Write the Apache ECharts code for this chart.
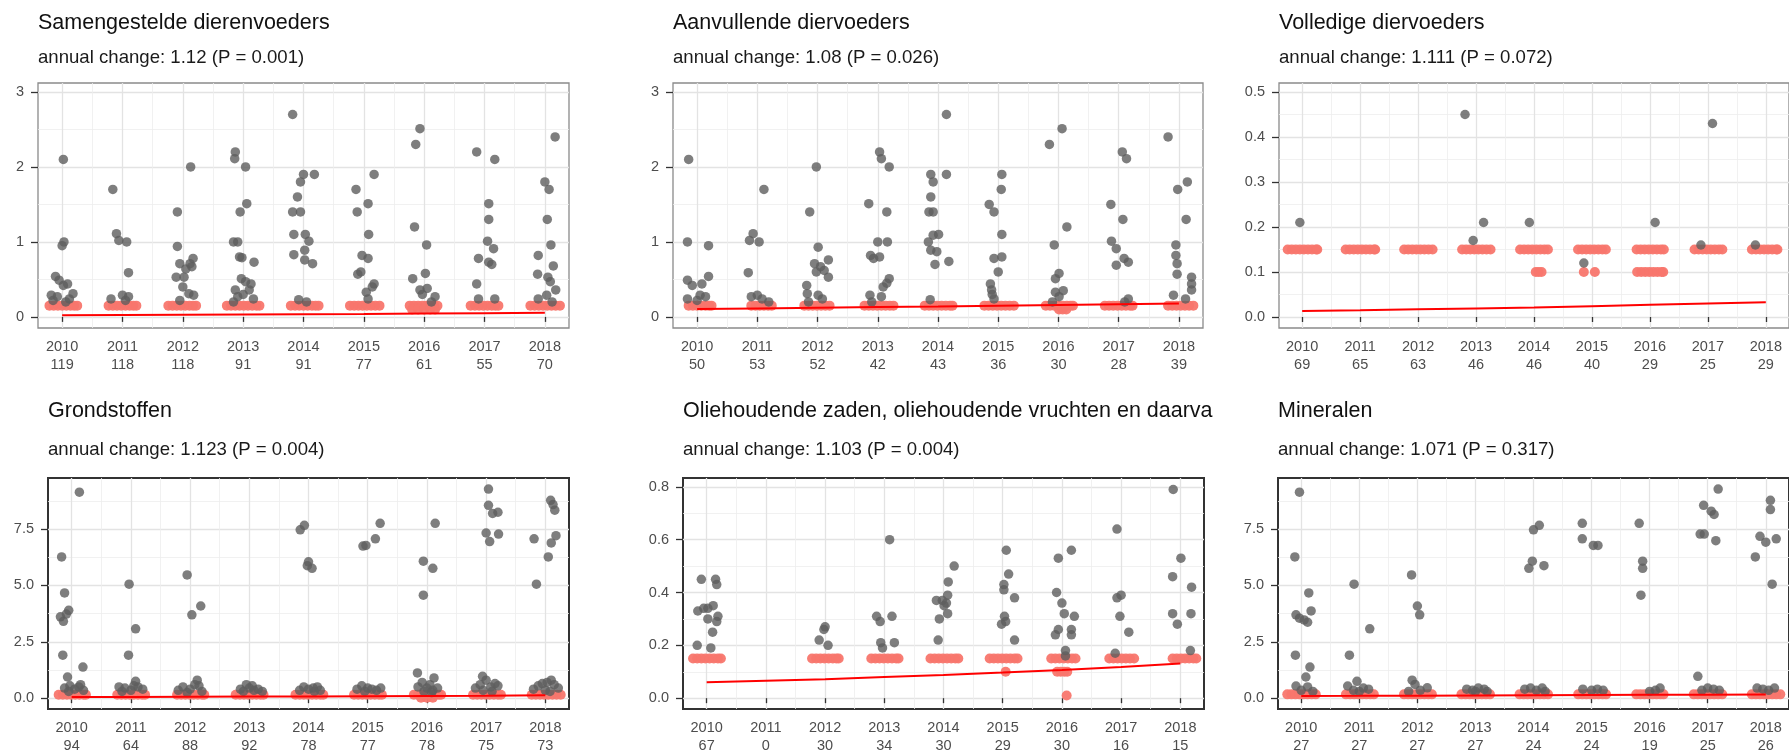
<!DOCTYPE html>
<html style="height: 100%">
<head>
<meta charset="utf-8" />
<title>Annual change per product group</title>
<script type="text/javascript" src="https://cdn.jsdelivr.net/npm/echarts@6/dist/echarts.min.js"></script>
</head>
<body style="height: 100%; margin: 0; background: #fff">
<div id="main" style="width: 1789px; height: 755px"></div>
<script type="text/javascript">
// years on the x axis and the number of samples per year (second label line)
var years = [2010, 2011, 2012, 2013, 2014, 2015, 2016, 2017, 2018];
var xMinor = [2010.5, 2011.5, 2012.5, 2013.5, 2014.5, 2015.5, 2016.5, 2017.5];

var titles = [
  "Samengestelde dierenvoeders",
  "Aanvullende diervoeders",
  "Volledige diervoeders",
  "Grondstoffen",
  "Oliehoudende zaden, oliehoudende vruchten en daarvan afgeleide producten",
  "Mineralen"
];
var subtitles = [
  "annual change: 1.12 (P = 0.001)",
  "annual change: 1.08 (P = 0.026)",
  "annual change: 1.111 (P = 0.072)",
  "annual change: 1.123 (P = 0.004)",
  "annual change: 1.103 (P = 0.004)",
  "annual change: 1.071 (P = 0.317)"
];

var countsP1 = [119, 118, 118, 91, 91, 77, 61, 55, 70];
var countsP2 = [50, 53, 52, 42, 43, 36, 30, 28, 39];
var countsP3 = [69, 65, 63, 46, 46, 40, 29, 25, 29];
var countsP4 = [94, 64, 88, 92, 78, 77, 78, 75, 73];
var countsP5 = [67, 0, 30, 34, 30, 29, 30, 16, 15];
var countsP6 = [27, 27, 27, 27, 24, 24, 19, 25, 26];

// y tick labels
var yTicksP1 = [0, 1, 2, 3];
var yTicksP2 = [0, 1, 2, 3];
var yTicksP3 = [0, 0.1, 0.2, 0.3, 0.4, 0.5];
var yTicksP4 = [0, 2.5, 5, 7.5];
var yTicksP5 = [0, 0.2, 0.4, 0.6, 0.8];
var yTicksP6 = [0, 2.5, 5, 7.5];

// measured values (x = year + jitter), grey = above detection limit
var greyP1 = [
  [2010.02,2.10],[2010.03,1.00],[2010.0,0.95],[2009.89,0.54],[2009.95,0.49],[2010.09,0.44],[2010.02,0.42],[2009.82,0.29],[2009.92,0.27],[2010.18,0.31],[2010.12,0.24],[2009.85,0.22],[2010.06,0.2],
  [2010.84,1.70],[2010.9,1.11],[2010.94,1.02],[2011.07,1.0],[2011.1,0.59],[2010.81,0.24],[2011.0,0.29],[2011.1,0.27],[2011.05,0.22],
  [2012.13,2.0],[2011.91,1.40],[2011.91,0.94],[2011.95,0.71],[2011.89,0.53],[2012.02,0.53],[2012.05,0.64],[2012.12,0.71],[2012.17,0.78],[2012.15,0.67],[2012.0,0.4],[2012.1,0.31],[2012.18,0.29],[2011.95,0.22],
  [2012.87,2.2],[2012.86,2.11],[2013.04,2.0],[2013.06,1.51],[2012.95,1.40],[2012.84,1.0],[2012.91,1.0],[2012.94,0.8],[2012.98,0.79],[2013.18,0.73],[2012.97,0.51],[2013.04,0.47],[2013.13,0.44],[2012.87,0.36],[2013.1,0.36],[2012.91,0.27],[2013.17,0.24],[2012.84,0.2],[2013.0,0.3],
  [2013.82,2.70],[2014.0,1.9],[2014.18,1.9],[2013.95,1.8],[2013.9,1.6],[2013.82,1.4],[2013.95,1.4],[2013.84,1.1],[2014.03,1.1],[2014.09,1.01],[2014.02,0.89],[2013.84,0.83],[2014.02,0.76],[2014.15,0.71],[2013.92,0.23],[2014.05,0.2],
  [2014.87,1.70],[2015.17,1.9],[2015.07,1.51],[2014.89,1.40],[2015.08,1.1],[2014.97,0.82],[2015.07,0.78],[2014.95,0.6],[2014.9,0.57],[2015.17,0.44],[2015.14,0.40],[2015.04,0.33],[2015.07,0.24],
  [2015.93,2.51],[2015.86,2.30],[2015.84,1.2],[2016.04,0.96],[2015.81,0.51],[2016.02,0.58],[2015.93,0.36],[2016.05,0.38],[2016.18,0.27],[2016.12,0.2],[2015.97,0.3],
  [2016.87,2.2],[2017.17,2.1],[2017.07,1.51],[2017.07,1.3],[2017.05,1.01],[2017.15,0.91],[2016.9,0.78],[2017.07,0.73],[2017.12,0.7],[2016.87,0.44],[2016.9,0.24],[2017.17,0.24],
  [2018.17,2.4],[2018.0,1.8],[2018.07,1.7],[2018.04,1.3],[2018.1,0.96],[2017.89,0.82],[2018.14,0.68],[2017.88,0.57],[2018.05,0.53],[2018.09,0.47],[2018.18,0.36],[2018.03,0.29],[2017.89,0.24],[2018.12,0.2]
];
var greyP2 = [
  [2009.86,2.1],[2009.84,1.0],[2010.19,0.95],[2009.84,0.49],[2009.92,0.42],[2010.08,0.44],[2010.19,0.54],[2009.84,0.24],[2010.05,0.29],[2010.14,0.27],[2010.0,0.22],
  [2010.93,1.11],[2010.87,1.02],[2011.03,1.0],[2011.11,1.70],[2010.85,0.59],[2010.9,0.27],[2011.0,0.29],[2011.19,0.2],[2011.08,0.24],
  [2011.98,2.0],[2011.87,1.40],[2012.01,0.93],[2011.95,0.71],[2012.05,0.67],[2012.11,0.62],[2011.98,0.6],[2012.18,0.76],[2012.18,0.53],[2011.82,0.42],[2011.83,0.31],[2012.01,0.29],[2012.08,0.24],[2011.85,0.2],
  [2013.03,2.2],[2013.06,2.11],[2013.19,2.0],[2012.85,1.51],[2013.15,1.40],[2013.0,1.0],[2013.16,1.0],[2012.88,0.82],[2012.93,0.78],[2013.03,0.8],[2013.19,0.51],[2013.09,0.4],[2012.87,0.29],[2013.06,0.27],[2013.15,0.45],[2012.9,0.2],
  [2014.14,2.70],[2013.88,1.9],[2014.14,1.9],[2013.92,1.8],[2013.88,1.6],[2013.92,1.4],[2013.85,1.4],[2014.01,1.1],[2013.92,1.09],[2013.84,1.0],[2013.88,0.89],[2013.98,0.87],[2014.18,0.74],[2013.95,0.7],[2013.87,0.23],
  [2014.85,1.50],[2014.93,1.40],[2015.06,1.9],[2015.05,1.70],[2015.06,1.1],[2014.93,0.78],[2015.06,0.8],[2015.0,0.6],[2014.87,0.44],[2014.89,0.36],[2014.93,0.24],[2014.9,0.3],
  [2015.85,2.30],[2016.06,2.51],[2016.14,1.2],[2015.93,0.96],[2016.01,0.58],[2015.95,0.51],[2015.95,0.33],[2016.08,0.35],[2016.01,0.27],[2015.9,0.2],
  [2017.06,2.2],[2017.13,2.11],[2016.87,1.50],[2017.07,1.3],[2016.88,1.01],[2016.96,0.91],[2017.09,0.78],[2016.96,0.69],[2017.16,0.73],[2017.16,0.24],[2017.1,0.2],
  [2017.82,2.4],[2018.14,1.8],[2017.98,1.70],[2018.12,1.3],[2017.95,0.96],[2017.95,0.82],[2017.97,0.71],[2017.97,0.57],[2018.21,0.53],[2018.21,0.44],[2018.21,0.36],[2017.91,0.29],[2018.11,0.24]
];
var greyP3 = [
  [2009.96,0.21],[2012.81,0.45],[2012.95,0.17],[2013.13,0.21],[2013.92,0.21],[2014.86,0.12],[2016.09,0.21],[2016.88,0.16],[2017.08,0.43],[2017.82,0.16]
];
var greyP4 = [
  [2010.13,9.14],[2009.83,6.27],[2009.88,4.67],[2009.81,3.61],[2009.86,3.41],[2009.91,3.73],[2009.95,3.9],[2009.85,1.91],[2010.19,1.38],[2009.93,0.94],[2009.88,0.45],[2009.97,0.55],[2010.05,0.4],[2010.12,0.5],[2010.2,0.35],[2010.15,0.6],[2009.95,0.3],
  [2010.97,5.06],[2011.08,3.08],[2010.96,1.91],[2011.08,0.75],[2010.8,0.5],[2010.9,0.45],[2011.0,0.35],[2011.12,0.5],[2011.2,0.4],[2011.05,0.55],[2010.85,0.3],
  [2011.95,5.47],[2012.03,3.7],[2012.18,4.09],[2012.12,0.8],[2011.8,0.35],[2011.88,0.5],[2012.0,0.4],[2012.08,0.6],[2012.15,0.55],[2012.2,0.3],[2011.95,0.25],
  [2012.85,0.4],[2012.95,0.6],[2013.0,0.45],[2013.08,0.35],[2013.15,0.4],[2013.22,0.3],[2012.9,0.3],[2013.05,0.55],
  [2013.86,7.47],[2013.93,7.67],[2014.0,6.05],[2013.98,5.88],[2014.06,5.76],[2013.85,0.35],[2013.92,0.5],[2014.0,0.4],[2014.08,0.45],[2014.15,0.5],[2014.2,0.35],[2014.1,0.3],
  [2014.92,6.75],[2014.97,6.78],[2015.13,7.07],[2015.21,7.76],[2014.82,0.4],[2014.9,0.55],[2015.0,0.45],[2015.07,0.4],[2015.15,0.35],[2015.22,0.45],[2014.95,0.3],
  [2015.94,6.08],[2016.1,5.76],[2016.14,7.76],[2015.94,4.57],[2015.84,1.12],[2016.12,0.9],[2015.85,0.5],[2015.92,0.7],[2016.0,0.45],[2016.05,0.6],[2016.1,0.35],[2016.18,0.45],[2015.95,0.3],[2016.08,0.25],
  [2017.04,9.28],[2017.04,8.56],[2017.11,8.2],[2017.2,8.25],[2017.0,7.33],[2017.06,6.95],[2017.21,7.28],[2016.94,0.97],[2016.82,0.45],[2016.9,0.6],[2017.0,0.8],[2017.08,0.5],[2017.15,0.65],[2017.2,0.55],[2016.95,0.35],[2017.1,0.3],
  [2017.81,7.07],[2017.85,5.06],[2018.05,6.27],[2018.1,6.89],[2018.18,7.21],[2018.09,8.78],[2018.13,8.59],[2018.16,8.34],[2017.8,0.4],[2017.88,0.55],[2017.95,0.65],[2018.03,0.7],[2018.1,0.8],[2018.15,0.6],[2018.22,0.45],[2018.0,0.35],[2018.08,0.3]
];
var greyP5 = [
  [2009.91,0.45],[2009.85,0.33],[2009.95,0.34],[2010.02,0.34],[2010.11,0.35],[2010.02,0.30],[2010.15,0.45],[2010.17,0.43],[2010.19,0.31],[2010.17,0.29],[2010.1,0.25],[2009.84,0.2],[2010.07,0.19],
  [2012.0,0.27],[2011.98,0.26],[2011.9,0.22],[2012.05,0.2],
  [2013.09,0.6],[2012.87,0.31],[2013.13,0.31],[2012.93,0.29],[2012.94,0.21],[2012.97,0.19],[2013.17,0.21],
  [2014.18,0.5],[2014.08,0.44],[2013.88,0.37],[2013.98,0.37],[2014.07,0.39],[2014.01,0.35],[2014.07,0.32],[2013.93,0.30],[2013.91,0.22],[2014.05,0.36],
  [2015.06,0.56],[2015.1,0.47],[2015.02,0.43],[2015.02,0.41],[2015.2,0.38],[2015.03,0.31],[2015.05,0.29],[2014.98,0.28],[2015.2,0.22],
  [2015.94,0.53],[2016.16,0.56],[2015.91,0.40],[2016.0,0.36],[2016.04,0.32],[2016.21,0.31],[2015.89,0.24],[2015.94,0.26],[2016.16,0.26],[2016.16,0.24],[2016.06,0.18],[2016.06,0.16],
  [2016.93,0.64],[2016.93,0.38],[2017.0,0.39],[2016.98,0.31],[2017.13,0.25],[2016.9,0.17],
  [2017.88,0.79],[2018.01,0.53],[2017.87,0.46],[2018.19,0.42],[2017.87,0.32],[2018.18,0.32],[2017.95,0.28],[2018.17,0.18]
];
var greyP6 = [
  [2009.97,9.14],[2009.89,6.27],[2010.13,4.67],[2009.91,3.7],[2009.97,3.55],[2010.05,3.47],[2010.11,3.37],[2010.17,3.87],[2009.9,1.91],[2010.15,1.38],[2010.08,0.94],[2009.91,0.54],[2010.11,0.5],[2010.0,0.35],[2010.2,0.3],
  [2010.91,5.06],[2011.18,3.08],[2010.83,1.91],[2010.96,0.75],[2010.8,0.54],[2011.07,0.45],[2011.16,0.4],[2010.9,0.35],[2011.0,0.3],
  [2011.9,5.47],[2012.0,4.09],[2012.04,3.7],[2011.91,0.8],[2011.96,0.61],[2012.17,0.46],[2012.05,0.35],[2011.85,0.3],
  [2012.85,0.4],[2012.95,0.35],[2013.05,0.45],[2013.15,0.4],[2013.2,0.3],[2013.0,0.3],
  [2014.0,7.47],[2014.1,7.67],[2013.98,6.08],[2013.92,5.76],[2014.18,5.88],[2013.85,0.4],[2013.95,0.45],[2014.05,0.35],[2014.15,0.45],[2014.2,0.3],
  [2014.84,7.76],[2014.84,7.07],[2015.03,6.78],[2015.11,6.78],[2014.85,0.4],[2015.0,0.35],[2015.1,0.4],[2015.2,0.35],
  [2015.82,7.76],[2015.88,6.08],[2015.88,5.76],[2015.85,4.57],[2016.0,0.3],[2016.1,0.35],[2016.18,0.45],
  [2017.18,9.28],[2016.93,8.56],[2017.06,8.3],[2017.11,8.15],[2016.87,7.28],[2016.94,7.28],[2017.14,6.99],[2016.83,0.97],[2016.9,0.35],[2017.0,0.45],[2017.1,0.4],[2017.2,0.35],
  [2017.82,6.27],[2017.9,7.18],[2018.0,6.92],[2018.18,7.07],[2018.08,8.78],[2018.08,8.37],[2018.11,5.06],[2017.85,0.45],[2017.95,0.4],[2018.05,0.35],[2018.15,0.45]
];

// values below the detection limit (red): each row = [value, x, x, x, ...]
var redP1 = [
  [0.15, 2009.79,2009.86,2009.93,2010.0,2010.07,2010.14,2010.2,2010.25],
  [0.15, 2010.77,2010.84,2010.91,2010.98,2011.05,2011.12,2011.18,2011.23],
  [0.15, 2011.76,2011.83,2011.9,2011.97,2012.04,2012.11,2012.17,2012.22],
  [0.15, 2012.73,2012.8,2012.87,2012.94,2013.01,2013.08,2013.15,2013.22,2013.27],
  [0.15, 2013.79,2013.86,2013.93,2014.0,2014.07,2014.14,2014.2,2014.25],
  [0.15, 2014.77,2014.84,2014.91,2014.98,2015.05,2015.12,2015.19,2015.26],
  [0.15, 2015.76,2015.83,2015.9,2015.97,2016.04,2016.11,2016.17,2016.22],
  [0.1, 2015.8,2015.9,2016.0,2016.1,2016.18],
  [0.15, 2016.77,2016.84,2016.91,2016.98,2017.05,2017.12,2017.18,2017.23],
  [0.15, 2017.76,2017.83,2017.9,2017.97,2018.04,2018.11,2018.18,2018.25]
];
var redP2 = [
  [0.15, 2009.86,2009.93,2010.0,2010.07,2010.14,2010.2,2010.24],
  [0.15, 2010.9,2010.97,2011.04,2011.11,2011.18,2011.24],
  [0.15, 2011.78,2011.85,2011.92,2011.99,2012.06,2012.13,2012.2],
  [0.15, 2012.78,2012.85,2012.92,2012.99,2013.06,2013.13,2013.2,2013.26],
  [0.15, 2013.78,2013.85,2013.92,2013.99,2014.06,2014.13,2014.2,2014.24],
  [0.15, 2014.77,2014.84,2014.91,2014.98,2015.05,2015.12,2015.19,2015.26],
  [0.15, 2015.79,2015.86,2015.93,2016.0,2016.07,2016.14,2016.2,2016.24],
  [0.1, 2016.01,2016.07,2016.13],
  [0.15, 2016.77,2016.84,2016.91,2016.98,2017.05,2017.12,2017.19,2017.23],
  [0.15, 2017.82,2017.89,2017.96,2018.03,2018.1,2018.17,2018.24]
];
var redP3 = [
  [0.15, 2009.75,2009.82,2009.89,2009.96,2010.03,2010.1,2010.17,2010.24,2010.26],
  [0.15, 2010.75,2010.82,2010.89,2010.96,2011.03,2011.1,2011.17,2011.24,2011.26],
  [0.15, 2011.76,2011.83,2011.9,2011.97,2012.04,2012.11,2012.18,2012.25],
  [0.15, 2012.76,2012.83,2012.9,2012.97,2013.04,2013.11,2013.18,2013.25],
  [0.15, 2013.76,2013.83,2013.9,2013.97,2014.04,2014.11,2014.18,2014.24],
  [0.15, 2014.76,2014.83,2014.9,2014.97,2015.04,2015.11,2015.18,2015.24],
  [0.15, 2015.77,2015.84,2015.91,2015.98,2016.05,2016.12,2016.19,2016.24],
  [0.15, 2016.77,2016.84,2016.91,2016.98,2017.05,2017.12,2017.19,2017.25],
  [0.15, 2017.76,2017.83,2017.9,2017.97,2018.04,2018.11,2018.18,2018.2],
  [0.1, 2014.03,2014.08,2014.13],
  [0.1, 2014.86,2015.05],
  [0.1, 2015.78,2015.85,2015.92,2015.99,2016.06,2016.13,2016.2,2016.23]
];
var redP4 = [
  [0.15, 2009.78,2009.85,2009.92,2009.99,2010.06,2010.13,2010.2,2010.24],
  [0.15, 2010.77,2010.84,2010.91,2010.98,2011.05,2011.12,2011.19,2011.24],
  [0.15, 2011.78,2011.85,2011.92,2011.99,2012.06,2012.13,2012.2,2012.24],
  [0.15, 2012.77,2012.84,2012.91,2012.98,2013.05,2013.12,2013.19,2013.24],
  [0.15, 2013.78,2013.85,2013.92,2013.99,2014.06,2014.13,2014.2,2014.25],
  [0.15, 2014.77,2014.84,2014.91,2014.98,2015.05,2015.12,2015.19,2015.24],
  [0.15, 2015.78,2015.85,2015.92,2015.99,2016.06,2016.13,2016.2,2016.24],
  [0.02, 2015.9,2016.0,2016.1],
  [0.15, 2016.78,2016.85,2016.92,2016.99,2017.06,2017.13,2017.2,2017.25],
  [0.15, 2017.77,2017.84,2017.91,2017.98,2018.05,2018.12,2018.19,2018.26]
];
var redP5 = [
  [0.15, 2009.77,2009.84,2009.91,2009.98,2010.05,2010.12,2010.19,2010.24],
  [0.15, 2011.78,2011.85,2011.92,2011.99,2012.06,2012.13,2012.19,2012.23],
  [0.15, 2012.78,2012.85,2012.92,2012.99,2013.06,2013.13,2013.2,2013.24],
  [0.15, 2013.78,2013.85,2013.92,2013.99,2014.06,2014.13,2014.2,2014.25],
  [0.15, 2014.78,2014.85,2014.92,2014.99,2015.06,2015.13,2015.2,2015.25],
  [0.15, 2015.82,2015.89,2015.96,2016.03,2016.1,2016.17,2016.23],
  [0.15, 2016.8,2016.87,2016.94,2017.01,2017.08,2017.15,2017.22],
  [0.15, 2017.87,2017.94,2018.01,2018.08,2018.15,2018.22,2018.27],
  [0.1, 2015.05],
  [0.1, 2015.92,2015.98,2016.04,2016.09],
  [0.01, 2016.08]
];
var redP6 = [
  [0.17, 2009.76,2009.83,2009.9,2009.97,2010.04,2010.11,2010.18,2010.25],
  [0.17, 2010.77,2010.84,2010.91,2010.98,2011.05,2011.12,2011.19,2011.25],
  [0.17, 2011.77,2011.84,2011.91,2011.98,2012.05,2012.12,2012.19,2012.25],
  [0.17, 2012.76,2012.83,2012.9,2012.97,2013.04,2013.11,2013.18,2013.25],
  [0.17, 2013.76,2013.83,2013.9,2013.97,2014.04,2014.11,2014.18,2014.25],
  [0.17, 2014.77,2014.84,2014.91,2014.98,2015.05,2015.12,2015.19,2015.25],
  [0.17, 2015.77,2015.84,2015.91,2015.98,2016.05,2016.12,2016.19,2016.24],
  [0.17, 2016.76,2016.83,2016.9,2016.97,2017.04,2017.11,2017.18,2017.25],
  [0.17, 2017.76,2017.83,2017.9,2017.97,2018.04,2018.11,2018.18,2018.25]
];

// fitted trend per year (red line)
var trendP1 = [0.022, 0.025, 0.028, 0.031, 0.035, 0.039, 0.044, 0.050, 0.056];
var trendP2 = [0.105, 0.113, 0.122, 0.131, 0.140, 0.150, 0.160, 0.170, 0.180];
var trendP3 = [0.0135, 0.015, 0.017, 0.019, 0.021, 0.024, 0.027, 0.030, 0.033];
var trendP4 = [0.05, 0.055, 0.062, 0.07, 0.078, 0.088, 0.1, 0.11, 0.125];
var trendP5 = [0.06, 0.066, 0.072, 0.08, 0.088, 0.097, 0.107, 0.118, 0.131];
var trendP6 = [0.1, 0.105, 0.112, 0.12, 0.128, 0.137, 0.147, 0.157, 0.168];

var FONT = '"Liberation Sans", Arial, sans-serif';

function redPoints(rows) {
  var out = [];
  rows.forEach(function (r) {
    for (var i = 1; i < r.length; i++) out.push([r[i], r[0]]);
  });
  return out;
}

var panels = [
  { left: 38,   top: 83,  width: 531, height: 245, ymin: -0.148, ymax: 3.12,  ticks: yTicksP1, minor: [0.5, 1.5, 2.5], dec: 0, border: '#8a8a8a', bw: 1.3, counts: countsP1, grey: greyP1, red: redP1, trend: trendP1 },
  { left: 673,  top: 83,  width: 530, height: 245, ymin: -0.148, ymax: 3.12,  ticks: yTicksP2, minor: [0.5, 1.5, 2.5], dec: 0, border: '#8a8a8a', bw: 1.3, counts: countsP2, grey: greyP2, red: redP2, trend: trendP2 },
  { left: 1279, top: 83,  width: 520, height: 245, ymin: -0.0244, ymax: 0.52, ticks: yTicksP3, minor: [0.05, 0.15, 0.25, 0.35, 0.45], dec: 1, border: '#8a8a8a', bw: 1.3, counts: countsP3, grey: greyP3, red: redP3, trend: trendP3 },
  { left: 48,   top: 478, width: 521, height: 235, ymin: -0.48, ymax: 9.77,   ticks: yTicksP4, minor: [1.25, 3.75, 6.25, 8.75], dec: 1, border: '#333', bw: 2, counts: countsP4, grey: greyP4, red: redP4, trend: trendP4 },
  { left: 683,  top: 478, width: 521, height: 235, ymin: -0.041, ymax: 0.8335, ticks: yTicksP5, minor: [0.1, 0.3, 0.5, 0.7], dec: 1, border: '#333', bw: 2, counts: countsP5, grey: greyP5, red: redP5, trend: trendP5 },
  { left: 1278, top: 478, width: 521, height: 235, ymin: -0.48, ymax: 9.77,   ticks: yTicksP6, minor: [1.25, 3.75, 6.25, 8.75], dec: 1, border: '#333', bw: 2, counts: countsP6, grey: greyP6, red: redP6, trend: trendP6 }
];

var titleTops = [11, 11, 11, 399, 399, 399];
var titleGaps = [13, 13, 13, 17, 17, 17];

var option = {
  animation: false,
  backgroundColor: '#fff',
  title: [], grid: [], xAxis: [], yAxis: [], series: []
};

panels.forEach(function (p, i) {
  var ts = { fontSize: 21.5, fontWeight: 'normal', color: '#111', fontFamily: FONT, lineHeight: 24 };
  // the long title is cut off by the neighbouring panel
  if (i === 4) { ts.width = 534; ts.overflow = 'truncate'; ts.ellipsis = ''; }
  option.title.push({
    left: p.left, top: titleTops[i], padding: 0, itemGap: titleGaps[i],
    text: titles[i], subtext: subtitles[i],
    textStyle: ts,
    subtextStyle: { fontSize: 18.6, color: '#1a1a1a', fontFamily: FONT, lineHeight: 20 }
  });
  option.grid.push({
    left: p.left, top: p.top, width: p.width, height: p.height,
    show: true, backgroundColor: '#fff', borderColor: p.border, borderWidth: p.bw
  });
  // major axis (labels, ticks, major grid) and a silent one for minor grid lines
  option.xAxis.push({
    type: 'value', gridIndex: i, min: 2009.6, max: 2018.4, position: 'bottom',
    axisLine: { show: false },
    axisTick: { show: true, length: 5, customValues: years, lineStyle: { color: '#333', width: 1.3 } },
    axisLabel: {
      customValues: years, margin: 10, fontSize: 14.5, lineHeight: 18, color: '#4d4d4d', fontFamily: FONT,
      formatter: function (v) { var y = Math.round(v); return y + '\n' + p.counts[years.indexOf(y)]; }
    },
    splitLine: { show: true, lineStyle: { color: '#e3e3e3', width: 1.3 } }
  });
  option.xAxis.push({
    type: 'value', gridIndex: i, min: 2009.6, max: 2018.4, position: 'bottom',
    axisLine: { show: false }, axisLabel: { show: false },
    axisTick: { show: false, customValues: xMinor },
    splitLine: { show: true, lineStyle: { color: '#eeeeee', width: 0.8 } }
  });
  option.yAxis.push({
    type: 'value', gridIndex: i, min: p.ymin, max: p.ymax, position: 'left',
    axisLine: { show: false },
    axisTick: { show: true, length: 7, customValues: p.ticks, lineStyle: { color: '#333', width: 1.3 } },
    axisLabel: {
      customValues: p.ticks, margin: 14, fontSize: 14.5, color: '#4d4d4d', fontFamily: FONT,
      formatter: function (v) { return v.toFixed(p.dec); }
    },
    splitLine: { show: true, lineStyle: { color: '#e3e3e3', width: 1.3 } }
  });
  option.yAxis.push({
    type: 'value', gridIndex: i, min: p.ymin, max: p.ymax, position: 'left',
    axisLine: { show: false }, axisLabel: { show: false },
    axisTick: { show: false, customValues: p.minor },
    splitLine: { show: true, lineStyle: { color: '#eeeeee', width: 0.8 } }
  });
  option.series.push({
    type: 'scatter', xAxisIndex: 2 * i, yAxisIndex: 2 * i, z: 2,
    symbolSize: 10, data: redPoints(p.red), silent: true,
    itemStyle: { color: '#F8766D', opacity: 0.95 }
  });
  option.series.push({
    type: 'scatter', xAxisIndex: 2 * i, yAxisIndex: 2 * i, z: 3,
    symbolSize: 9.5, data: p.grey, silent: true,
    itemStyle: { color: '#5e5e5e' }
  });
  option.series.push({
    type: 'line', xAxisIndex: 2 * i, yAxisIndex: 2 * i, z: 4,
    showSymbol: false, silent: true, smooth: false,
    data: years.map(function (y, k) { return [y, p.trend[k]]; }),
    lineStyle: { color: '#ff0000', width: 2 }
  });
});

var myChart = echarts.init(document.getElementById('main'));
myChart.setOption(option);
</script>
</body>
</html>
